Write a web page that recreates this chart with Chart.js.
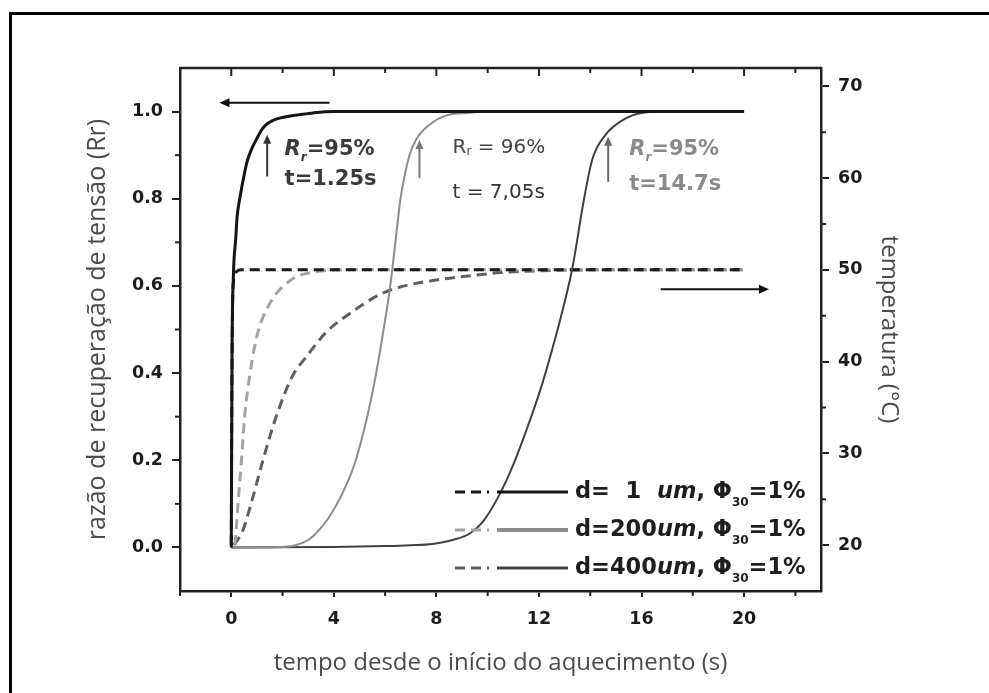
<!DOCTYPE html>
<html>
<head>
<meta charset="utf-8">
<script src="https://cdn.jsdelivr.net/npm/chart.js"></script>
<style>
  html, body { margin: 0; padding: 0; background: #fff; }
  #wrap { position: relative; width: 989px; height: 693px; }
</style>
</head>
<body>
<div id="wrap"><canvas id="myChart"></canvas></div>
<script>
// axis ticks
const xTicks = [0, 4, 8, 12, 16, 20];
const xMinor = [-2, 2, 6, 10, 14, 18, 22];
const rrTicks = [0, 0.2, 0.4, 0.6, 0.8, 1.0];
const rrMinor = [0.1, 0.3, 0.5, 0.7, 0.9];
const tempTicks = [20, 30, 40, 50, 60, 70];
const tempMinor = [25, 35, 45, 55, 65];

// legend
const diameters = ['1', '200', '400'];

// d = 1 um : recovery ratio (solid) and temperature (dashed)
const t1 = [0, 0.03, 0.08, 0.17, 0.23, 0.33, 0.54, 0.64, 0.8, 0.97, 1.15, 1.36, 1.6, 1.88, 2.3, 2.66, 3.2, 4, 20];
const rr1 = [0, 0.45, 0.62, 0.706, 0.76, 0.8, 0.866, 0.89, 0.915, 0.935, 0.955, 0.97, 0.979, 0.985, 0.99, 0.993, 0.997, 1.0, 1.0];
const tt1 = [0, 0.02, 0.05, 0.1, 0.2, 0.4, 20];
const temp1 = [20, 35, 46, 49, 49.8, 50, 50];

// d = 200 um
const t2 = [0, 1.5, 2.5, 3, 3.3, 3.8, 4.3, 4.8, 5.3, 5.65, 5.94, 6.2, 6.4, 6.6, 6.95, 7.2, 7.73, 8.5, 9.2, 10, 20];
const rr2 = [0, 0, 0.005, 0.017, 0.032, 0.068, 0.12, 0.19, 0.3, 0.4, 0.5, 0.6, 0.7, 0.8, 0.9, 0.935, 0.97, 0.993, 0.997, 1.0, 1.0];
const tt2 = [0.15, 0.25, 0.39, 0.52, 0.72, 0.9, 1.1, 1.4, 1.75, 2.1, 2.5, 3.3, 4.5, 20];
const temp2 = [20, 24, 29, 34, 38.5, 41.5, 43.8, 45.8, 47.4, 48.4, 49.2, 49.8, 50, 50];

// d = 400 um
const t3 = [0, 4, 6, 7, 7.85, 8.7, 9.3, 9.8, 10.45, 11, 11.7, 12.1, 12.4, 12.86, 13.3, 13.76, 14.08, 14.6, 15.25, 16, 17, 20];
const rr3 = [0, 0.001, 0.003, 0.005, 0.008, 0.018, 0.032, 0.058, 0.12, 0.19, 0.3, 0.37, 0.43, 0.53, 0.64, 0.8, 0.89, 0.947, 0.98, 0.997, 1.0, 1.0];
const tt3 = [0.1, 0.45, 0.78, 1.23, 1.75, 2.4, 2.92, 3.7, 4.5, 5.78, 6.55, 8, 9.15, 10.5, 12, 14, 20];
const temp3 = [20, 21.6, 24.6, 29.2, 34, 38.5, 40.5, 43.2, 45, 47.3, 48.1, 48.9, 49.3, 49.7, 49.9, 50, 50];

const pts = (xs, ys) => xs.map((x, i) => ({ x: x, y: ys[i] }));

const solidColors = ['#151515', '#8c8c8c', '#404040'];
const solidWidths = [3, 2, 2];
const dashColors = ['#1a1a1a', '#a3a3a3', '#5f5f5f'];
const dash = [10, 6];

const base = { pointRadius: 0, fill: false, cubicInterpolationMode: 'monotone' };
const datasets = [
  { ...base, label: 'Rr 1', data: pts(t1, rr1), yAxisID: 'y', borderColor: solidColors[0], borderWidth: solidWidths[0] },
  { ...base, label: 'Rr 200', data: pts(t2, rr2), yAxisID: 'y', borderColor: solidColors[1], borderWidth: solidWidths[1] },
  { ...base, label: 'Rr 400', data: pts(t3, rr3), yAxisID: 'y', borderColor: solidColors[2], borderWidth: solidWidths[2] },
  { ...base, label: 'T 1', data: pts(tt1, temp1), yAxisID: 'y2', borderColor: dashColors[0], borderWidth: 3, borderDash: dash },
  { ...base, label: 'T 200', data: pts(tt2, temp2), yAxisID: 'y2', borderColor: dashColors[1], borderWidth: 3, borderDash: dash },
  { ...base, label: 'T 400', data: pts(tt3, temp3), yAxisID: 'y2', borderColor: dashColors[2], borderWidth: 3, borderDash: dash },
];

const tickFont = { family: 'DejaVu Sans', size: 17.5, weight: 'bold' };
const titleFont = { family: 'Open Sans', size: 24 };
const axisColor = '#222';

function line(ctx, x1, y1, x2, y2) {
  ctx.beginPath(); ctx.moveTo(x1, y1); ctx.lineTo(x2, y2); ctx.stroke();
}

function arrow(ctx, x1, y1, x2, y2, color, w, head) {
  ctx.strokeStyle = color; ctx.fillStyle = color; ctx.lineWidth = w;
  const ang = Math.atan2(y2 - y1, x2 - x1);
  line(ctx, x1, y1, x2 - Math.cos(ang) * head * 0.6, y2 - Math.sin(ang) * head * 0.6);
  ctx.beginPath();
  ctx.moveTo(x2, y2);
  ctx.lineTo(x2 - head * Math.cos(ang) + head * 0.45 * Math.sin(ang), y2 - head * Math.sin(ang) - head * 0.45 * Math.cos(ang));
  ctx.lineTo(x2 - head * Math.cos(ang) - head * 0.45 * Math.sin(ang), y2 - head * Math.sin(ang) + head * 0.45 * Math.cos(ang));
  ctx.closePath(); ctx.fill();
}

// pieces: [text, font, dy]
function rich(ctx, pieces, x, y, color) {
  ctx.fillStyle = color;
  ctx.textBaseline = 'middle';
  ctx.textAlign = 'left';
  let cx = x;
  pieces.forEach(p => {
    ctx.font = p[1];
    ctx.fillText(p[0], cx, y + (p[2] || 0));
    cx += ctx.measureText(p[0]).width;
  });
}

const decor = {
  id: 'decor',
  afterDraw(chart) {
    const { ctx, chartArea: a } = chart;
    const x = chart.scales.x, y = chart.scales.y, y2 = chart.scales.y2;
    ctx.save();
    // outer frame (left and top only)
    ctx.strokeStyle = '#000'; ctx.lineWidth = 3;
    ctx.beginPath(); ctx.moveTo(10.5, 693); ctx.lineTo(10.5, 13.5); ctx.lineTo(989, 13.5); ctx.stroke();

    // top axis with inward ticks
    ctx.strokeStyle = axisColor; ctx.lineWidth = 2.5;
    line(ctx, a.left - 1, a.top, a.right + 1, a.top);
    ctx.lineWidth = 2;
    xTicks.forEach(v => { const px = x.getPixelForValue(v); line(ctx, px, a.top, px, a.top + 8); });
    xMinor.forEach(v => { const px = x.getPixelForValue(v); line(ctx, px, a.top, px, a.top + 5); });
    // minor ticks outward
    xMinor.forEach(v => { const px = x.getPixelForValue(v); line(ctx, px, a.bottom, px, a.bottom + 5); });
    rrMinor.forEach(v => { const py = y.getPixelForValue(v); line(ctx, a.left - 5, py, a.left, py); });
    tempMinor.forEach(v => { const py = y2.getPixelForValue(v); line(ctx, a.right, py, a.right + 5, py); });

    // direction arrows
    arrow(ctx, x.getPixelForValue(3.83), y.getPixelForValue(1.02), x.getPixelForValue(-0.46), y.getPixelForValue(1.02), '#111', 2, 10);
    arrow(ctx, x.getPixelForValue(16.75), y2.getPixelForValue(47.9), x.getPixelForValue(20.97), y2.getPixelForValue(47.9), '#111', 2, 10);

    // markers at 95% recovery
    arrow(ctx, x.getPixelForValue(1.4), y.getPixelForValue(0.851), x.getPixelForValue(1.4), y.getPixelForValue(0.947), '#333', 2, 9);
    arrow(ctx, x.getPixelForValue(7.34), y.getPixelForValue(0.848), x.getPixelForValue(7.34), y.getPixelForValue(0.935), '#777', 2, 9);
    arrow(ctx, x.getPixelForValue(14.7), y.getPixelForValue(0.839), x.getPixelForValue(14.7), y.getPixelForValue(0.942), '#666', 2, 9);

    const bf = 'bold 21px "DejaVu Sans"';
    const bi = 'italic bold 21px "DejaVu Sans"';
    const bs = 'italic bold 12px "DejaVu Sans"';
    rich(ctx, [['R', bi], ['r', bs, 8], ['=95%', bf]], x.getPixelForValue(2.08), y.getPixelForValue(0.912), '#3a3a3a');
    rich(ctx, [['t=1.25s', bf]], x.getPixelForValue(2.08), y.getPixelForValue(0.844), '#3a3a3a');
    const nf = '20px "DejaVu Sans"';
    rich(ctx, [['R', nf], ['r', '12px "DejaVu Sans"', 5], [' = 96%', nf]], x.getPixelForValue(8.63), y.getPixelForValue(0.918), '#444');
    rich(ctx, [['t = 7,05s', nf]], x.getPixelForValue(8.63), y.getPixelForValue(0.814), '#333');
    rich(ctx, [['R', bi], ['r', bs, 8], ['=95%', bf]], x.getPixelForValue(15.52), y.getPixelForValue(0.912), '#8a8a8a');
    rich(ctx, [['t=14.7s', bf]], x.getPixelForValue(15.52), y.getPixelForValue(0.832), '#8a8a8a');

    // legend: dashed (temperature) + solid (recovery) sample, then text
    const lf = 'bold 22.5px "DejaVu Sans"';
    const li = 'italic bold 22.5px "DejaVu Sans"';
    const ls = 'bold 12px "DejaVu Sans"';
    diameters.forEach((d, i) => {
      const ly = a.bottom - 99 + i * 38;
      const sx = a.right - 366;
      ctx.save();
      ctx.strokeStyle = dashColors[i]; ctx.lineWidth = 3; ctx.setLineDash(dash);
      line(ctx, sx, ly, sx + 34, ly);
      ctx.restore();
      ctx.strokeStyle = solidColors[i]; ctx.lineWidth = i === 1 ? 4 : 3;
      line(ctx, sx + 42, ly, sx + 113, ly);
      ctx.fillStyle = '#1e1e1e';
      ctx.textBaseline = 'middle'; ctx.textAlign = 'left';
      let cx = sx + 120;
      ctx.font = lf; ctx.fillText('d=', cx, ly); cx += ctx.measureText('d=').width;
      const wNum = ctx.measureText('200').width;
      ctx.textAlign = 'center'; ctx.fillText(d, cx + wNum / 2, ly); ctx.textAlign = 'left';
      cx += wNum;
      ctx.font = li; ctx.fillText('um', cx, ly); cx += ctx.measureText('um').width;
      ctx.font = lf; ctx.fillText(', \u03A6', cx, ly); cx += ctx.measureText(', \u03A6').width;
      ctx.font = ls; ctx.fillText('30', cx, ly + 11); cx += ctx.measureText('30').width;
      ctx.font = lf; ctx.fillText('=1%', cx, ly);
    });
    ctx.restore();
  }
};

new Chart(document.getElementById('myChart'), {
  type: 'line',
  data: { datasets: datasets },
  options: {
    animation: false,
    responsive: true,
    maintainAspectRatio: false,
    layout: { padding: { top: 68, left: 0, right: 0, bottom: 0 } },
    plugins: { legend: { display: false }, tooltip: { enabled: false } },
    scales: {
      x: {
        type: 'linear', position: 'bottom', min: -2, max: 23,
        afterBuildTicks: s => { s.ticks = xTicks.map(v => ({ value: v })); },
        afterFit: s => { s.height = 102; },
        ticks: { font: tickFont, color: '#1c1c1c', padding: 12, maxRotation: 0, autoSkip: false },
        grid: { drawOnChartArea: false, drawTicks: true, tickLength: 6, color: axisColor, lineWidth: 2 },
        border: { color: axisColor, width: 2.5 },
        title: { display: true, text: 'tempo desde o início do aquecimento (s)', font: titleFont, color: '#4a4a4a', padding: { top: 0, bottom: 15 } }
      },
      y: {
        type: 'linear', position: 'left', min: -0.1, max: 1.1,
        afterBuildTicks: s => { s.ticks = rrTicks.map(v => ({ value: v })); },
        afterFit: s => { s.width = 180; },
        ticks: { font: tickFont, color: '#1c1c1c', padding: 9, callback: v => v.toFixed(1) },
        grid: { drawOnChartArea: false, drawTicks: true, tickLength: 8, color: axisColor, lineWidth: 2 },
        border: { color: axisColor, width: 2.5 },
        title: { display: true, text: 'razão de recuperação de tensão (Rr)', font: { family: 'Open Sans', size: 25 }, color: '#4a4a4a', padding: { top: 83, bottom: 0 } }
      },
      y2: {
        type: 'linear', position: 'right', min: 15, max: 72,
        afterBuildTicks: s => { s.ticks = tempTicks.map(v => ({ value: v })); },
        afterFit: s => { s.width = 168; },
        ticks: { font: tickFont, color: '#1c1c1c', padding: 9 },
        grid: { drawOnChartArea: false, drawTicks: true, tickLength: 8, color: axisColor, lineWidth: 2 },
        border: { color: axisColor, width: 2.5 },
        title: { display: true, text: 'temperatura (°C)', font: titleFont, color: '#4a4a4a', padding: { top: 86, bottom: 0 } }
      }
    }
  },
  plugins: [decor]
});
</script>
</body>
</html>
